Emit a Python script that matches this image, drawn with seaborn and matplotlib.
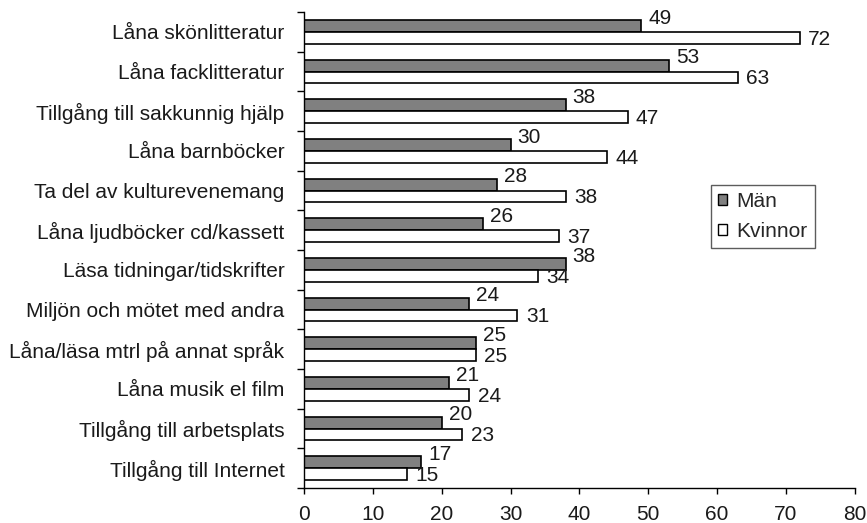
import matplotlib
matplotlib.use("Agg")
import matplotlib.pyplot as plt
from matplotlib.patches import Patch
import numpy as np
import pandas as pd
import seaborn as sns

categories = [
    "Låna skönlitteratur",
    "Låna facklitteratur",
    "Tillgång till sakkunnig hjälp",
    "Låna barnböcker",
    "Ta del av kulturevenemang",
    "Låna ljudböcker cd/kassett",
    "Läsa tidningar/tidskrifter",
    "Miljön och mötet med andra",
    "Låna/läsa mtrl på annat språk",
    "Låna musik el film",
    "Tillgång till arbetsplats",
    "Tillgång till Internet",
]
man = [49, 53, 38, 30, 28, 26, 38, 24, 25, 21, 20, 17]
kvinnor = [72, 63, 47, 44, 38, 37, 34, 31, 25, 24, 23, 15]
series = ["Män", "Kvinnor"]
colors = ["#808080", "#ffffff"]

df = pd.DataFrame({
    "kategori": categories * 2,
    "grupp": [series[0]] * len(categories) + [series[1]] * len(categories),
    "andel": man + kvinnor,
})

sns.set_style("white")
plt.rcParams["font.family"] = ["Liberation Sans", "DejaVu Sans"]
fs = 15

fig = plt.figure(figsize=(8.67, 5.23), dpi=100)
ax = fig.add_axes([0.3506, 0.0669, 0.986 - 0.3506, 0.977 - 0.0669])

sns.barplot(data=df, y="kategori", x="andel", hue="grupp", orient="h",
            palette=colors, width=0.6, edgecolor="black", linewidth=1.2,
            legend=False, ax=ax, errorbar=None)

ax.set_xlim(0, 80)
ax.set_ylim(len(categories) - 0.5, -0.5)
ax.set_xticks(np.arange(0, 81, 10))
ax.set_xlabel("")
ax.set_ylabel("")

# etiketter med värden
for cont, dy, dx in zip(ax.containers, [5.5, -1], [5, 6]):
    for rect, val in zip(cont, cont.datavalues):
        ax.annotate(f"{val:.0f}",
                    xy=(rect.get_x() + rect.get_width(), rect.get_y() + rect.get_height() / 2),
                    xytext=(dx, dy), textcoords="offset points",
                    ha="left", va="center", fontsize=fs, color="#1a1a1a")

# y-ticks mellan kategorierna
ax.set_yticks(np.arange(-0.5, len(categories), 1), minor=True)
ax.tick_params(axis="y", which="major", length=0, pad=14, labelsize=fs, labelcolor="#1a1a1a")
ax.tick_params(axis="y", which="minor", left=True, length=5, width=1.0, color="black")
ax.tick_params(axis="x", which="major", bottom=True, length=4, width=1.0, color="black",
               pad=8, labelsize=fs, labelcolor="#1a1a1a")

for s in ["top", "right"]:
    ax.spines[s].set_visible(False)
for s in ["left", "bottom"]:
    ax.spines[s].set_color("black")
    ax.spines[s].set_linewidth(1.0)

handles = [Patch(facecolor=c, edgecolor="black", linewidth=1.0) for c in colors]
leg = fig.legend(handles, series, loc="upper left",
                 bbox_to_anchor=(711 / 867, 1 - 185 / 523),
                 frameon=True, fancybox=False, fontsize=fs,
                 handlelength=0.42, handleheight=0.42, handletextpad=0.45,
                 labelspacing=0.5, borderpad=0.35, borderaxespad=0)
leg.get_frame().set_edgecolor("#333333")
leg.get_frame().set_linewidth(1.0)

fig.savefig("out.png", dpi=100)
